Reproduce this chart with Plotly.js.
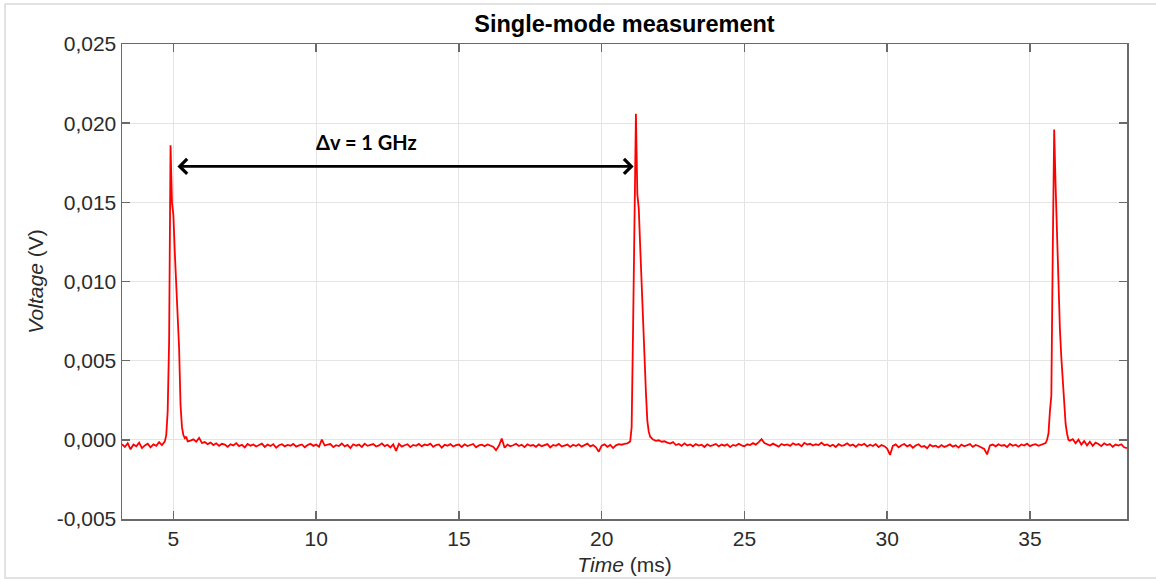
<!DOCTYPE html>
<html>
<head>
<meta charset="utf-8">
<script src="https://cdn.plot.ly/plotly-3.0.1.min.js"></script>
<style>
html,body{margin:0;padding:0;background:#fff;}
#chart{width:1156px;height:579px;}
</style>
</head>
<body>
<div id="chart"></div>
<script>
// ---- data (time in ms, voltage in V) ----
const timeA = [3.2,3.3,3.4,3.5,3.6,3.7,3.8,3.9,4.0,4.1,4.2,4.3,4.4,4.5,4.6,4.7];
const voltA = [-0.00028,-0.00045,-0.00022,-0.00060,-0.00030,-0.00041,-0.00018,-0.00052,-0.00035,-0.00024,-0.00047,-0.00029,-0.00038,-0.00015,-0.00033,-0.00010];

const timePeak1 = [4.75,4.8,4.85,4.9,4.95,5.0,5.05,5.1,5.15,5.2,5.25,5.3,5.35,5.4,5.45,5.5];
const voltPeak1 = [0.0003,0.0018,0.0062,0.0186,0.0150,0.0142,0.0118,0.0097,0.0078,0.0058,0.0022,0.0008,0.0003,0.0001,0.0002,-0.0001];

const timeB = [
 5.6,5.7,5.8,5.9,6.0,6.1,6.2,6.3,6.4,6.5,
 6.6,6.7,6.8,6.9,7.0,7.1,7.2,7.3,7.4,7.5,
 7.6,7.7,7.8,7.9,8.0,8.1,8.2,8.3,8.4,8.5,
 8.6,8.7,8.8,8.9,9.0,9.1,9.2,9.3,9.4,9.5,
 9.6,9.7,9.8,9.9,10.0,10.1,10.2,10.3,10.4,10.5,
 10.6,10.7,10.8,10.9,11.0,11.1,11.2,11.3,11.4,11.5,
 11.6,11.7,11.8,11.9,12.0,12.1,12.2,12.3,12.4,12.5,
 12.6,12.7,12.8,12.9,13.0,13.1,13.2,13.3,13.4,13.5,
 13.6,13.7,13.8,13.9,14.0,14.1,14.2,14.3,14.4,14.5,
 14.6,14.7,14.8,14.9,15.0,15.1,15.2,15.3,15.4,15.5,
 15.6,15.7,15.8,15.9,16.0,16.1,16.2,16.3,16.4,16.5,
 16.6,16.7,16.8,16.9,17.0,17.1,17.2,17.3,17.4,17.5,
 17.6,17.7,17.8,17.9,18.0,18.1,18.2,18.3,18.4,18.5,
 18.6,18.7,18.8,18.9,19.0,19.1,19.2,19.3,19.4,19.5,
 19.6,19.7,19.8,19.9,20.0,20.1,20.2,20.3,20.4,20.5,
 20.6,20.7,20.8,20.9];
const voltB = [
 -0.00005,0.00003,-0.00012,0.00012,-0.00020,-0.00014,-0.00027,-0.00018,-0.00033,-0.00022,
 -0.00038,-0.00025,-0.00030,-0.00044,-0.00028,-0.00035,-0.00021,-0.00040,-0.00031,-0.00048,
 -0.00026,-0.00037,-0.00029,-0.00042,-0.00033,-0.00024,-0.00045,-0.00030,-0.00039,-0.00027,
 -0.00050,-0.00034,-0.00028,-0.00041,-0.00032,-0.00037,-0.00026,-0.00043,-0.00035,-0.00029,
 -0.00047,-0.00033,-0.00025,-0.00038,-0.00030,-0.00044,0.00002,-0.00036,-0.00031,-0.00027,
 -0.00046,-0.00034,-0.00039,-0.00023,-0.00041,-0.00032,-0.00052,-0.00028,-0.00037,-0.00030,
 -0.00045,-0.00024,-0.00038,-0.00033,-0.00027,-0.00042,-0.00035,-0.00022,-0.00040,-0.00031,
 -0.00048,-0.00029,-0.00070,-0.00025,-0.00043,-0.00034,-0.00028,-0.00046,-0.00032,-0.00038,
 -0.00026,-0.00041,-0.00030,-0.00035,-0.00024,-0.00044,-0.00033,-0.00029,-0.00049,-0.00031,
 -0.00037,-0.00027,-0.00042,-0.00034,-0.00030,-0.00045,-0.00028,-0.00039,-0.00033,-0.00026,
 -0.00047,-0.00035,-0.00031,-0.00040,-0.00029,-0.00036,-0.00043,-0.00065,-0.00038,0.00008,
 -0.00050,-0.00030,-0.00041,-0.00034,-0.00025,-0.00039,-0.00031,-0.00046,-0.00028,-0.00037,
 -0.00033,-0.00044,-0.00029,-0.00040,-0.00035,-0.00027,-0.00048,-0.00032,-0.00038,-0.00026,
 -0.00042,-0.00034,-0.00030,-0.00045,-0.00031,-0.00039,-0.00028,-0.00043,-0.00036,-0.00024,
 -0.00041,-0.00033,-0.00047,-0.00075,-0.00037,-0.00029,-0.00044,-0.00032,-0.00052,-0.00035,
 -0.00027,-0.00031,-0.00026,-0.00022];

const timePeak2 = [21.0,21.05,21.1,21.15,21.2,21.25,21.3,21.35,21.4,21.45,21.5,21.55,21.6,21.65,21.7,21.75];
const voltPeak2 = [-0.0001,0.0008,0.0070,0.0132,0.0206,0.0155,0.0146,0.0122,0.0098,0.0072,0.0046,0.0030,0.0012,0.0005,0.0002,0.0001];

const timeC = [
 21.8,21.9,22.0,22.1,22.2,22.3,22.4,22.5,22.6,22.7,
 22.8,22.9,23.0,23.1,23.2,23.3,23.4,23.5,23.6,23.7,
 23.8,23.9,24.0,24.1,24.2,24.3,24.4,24.5,24.6,24.7,
 24.8,24.9,25.0,25.1,25.2,25.3,25.4,25.5,25.6,25.7,
 25.8,25.9,26.0,26.1,26.2,26.3,26.4,26.5,26.6,26.7,
 26.8,26.9,27.0,27.1,27.2,27.3,27.4,27.5,27.6,27.7,
 27.8,27.9,28.0,28.1,28.2,28.3,28.4,28.5,28.6,28.7,
 28.8,28.9,29.0,29.1,29.2,29.3,29.4,29.5,29.6,29.7,
 29.8,29.9,30.0,30.1,30.2,30.3,30.4,30.5,30.6,30.7,
 30.8,30.9,31.0,31.1,31.2,31.3,31.4,31.5,31.6,31.7,
 31.8,31.9,32.0,32.1,32.2,32.3,32.4,32.5,32.6,32.7,
 32.8,32.9,33.0,33.1,33.2,33.3,33.4,33.5,33.6,33.7,
 33.8,33.9,34.0,34.1,34.2,34.3,34.4,34.5,34.6,34.7,
 34.8,34.9,35.0,35.1,35.2,35.3,35.4,35.5];
const voltC = [
 0.00002,-0.00006,-0.00003,-0.00012,-0.00009,-0.00018,-0.00024,-0.00015,-0.00033,-0.00026,
 -0.00038,-0.00022,-0.00035,-0.00029,-0.00041,-0.00027,-0.00036,-0.00031,-0.00045,-0.00028,
 -0.00039,-0.00033,-0.00026,-0.00042,-0.00030,-0.00037,-0.00029,-0.00046,-0.00032,-0.00038,
 -0.00025,-0.00035,-0.00040,-0.00028,-0.00033,-0.00021,-0.00030,-0.00014,0.00004,-0.00020,
 -0.00027,-0.00036,-0.00024,-0.00031,-0.00043,-0.00026,-0.00034,-0.00029,-0.00038,-0.00022,
 -0.00032,-0.00027,-0.00041,-0.00019,-0.00030,-0.00025,-0.00036,-0.00028,-0.00033,-0.00018,
 -0.00034,-0.00029,-0.00040,-0.00031,-0.00045,-0.00027,-0.00038,-0.00033,-0.00022,-0.00037,
 -0.00030,-0.00044,-0.00028,-0.00035,-0.00025,-0.00042,-0.00031,-0.00039,-0.00027,-0.00046,
 -0.00033,-0.00040,-0.00055,-0.00095,-0.00038,-0.00029,-0.00047,-0.00034,-0.00026,-0.00041,
 -0.00032,-0.00050,-0.00036,-0.00028,-0.00044,-0.00039,-0.00053,-0.00031,-0.00042,-0.00037,
 -0.00048,-0.00033,-0.00045,-0.00038,-0.00029,-0.00043,-0.00035,-0.00049,-0.00030,-0.00041,
 -0.00036,-0.00027,-0.00044,-0.00032,-0.00039,-0.00046,-0.00058,-0.00092,-0.00035,-0.00030,
 -0.00041,-0.00028,-0.00037,-0.00033,-0.00045,-0.00026,-0.00038,-0.00031,-0.00043,-0.00029,
 -0.00036,-0.00024,-0.00040,-0.00032,-0.00027,-0.00038,-0.00030,-0.00022];

const timePeak3 = [35.55,35.6,35.65,35.7,35.75,35.8,35.85,35.9,35.95,36.0,36.05,36.1,36.15,36.2,36.25,36.3,36.35];
const voltPeak3 = [-0.0002,0.0000,0.0004,0.0018,0.0028,0.0120,0.0196,0.0160,0.0128,0.0100,0.0070,0.0052,0.0038,0.0026,0.0010,0.0004,0.0000];

const timeD = [36.4,36.5,36.6,36.7,36.8,36.9,37.0,37.1,37.2,37.3,
               37.4,37.5,37.6,37.7,37.8,37.9,38.0,38.1,38.2,38.3,38.4];
const voltD = [-0.00005,0.00004,-0.00022,0.00001,-0.00030,-0.00008,-0.00035,-0.00012,-0.00038,-0.00018,
               -0.00026,-0.00040,-0.00022,-0.00033,-0.00027,-0.00044,-0.00030,-0.00036,-0.00028,-0.00047,-0.00052];

const timeMs = [].concat(timeA, timePeak1, timeB, timePeak2, timeC, timePeak3, timeD);
const voltageV = [].concat(voltA, voltPeak1, voltB, voltPeak2, voltC, voltPeak3, voltD);

const xTickVals = [5, 10, 15, 20, 25, 30, 35];
const yTickVals = [-0.005, 0, 0.005, 0.010, 0.015, 0.020, 0.025];
const yTickText = ['-0,005', '0,000', '0,005', '0,010', '0,015', '0,020', '0,025'];

const chartTitle = 'Single-mode measurement';
const xTitle = '<i>Time</i> (ms)';
const yTitle = '<i>Voltage</i> (V)';
const spacingLabel = 'Δv = 1 GHz';

// ---- chart ----
const FONT = 'Liberation Sans, Arial, Helvetica, sans-serif';
const AXCOL = '#6a6a6a';

const trace = {
  type: 'scatter', mode: 'lines',
  x: timeMs, y: voltageV,
  line: {color: '#ff0000', width: 1.8},
  hoverinfo: 'skip'
};

const axisCommon = {
  showline: true, linecolor: AXCOL, linewidth: 1.5, mirror: 'ticks',
  ticks: 'inside', ticklen: 8, tickwidth: 1.5, tickcolor: AXCOL,
  showgrid: true, gridcolor: '#e4e4e4', gridwidth: 1,
  zeroline: false,
  tickfont: {family: FONT, size: 21, color: '#2b2b2b'}
};

const layout = {
  width: 1156, height: 579,
  margin: {l: 122, r: 29, t: 44, b: 60, pad: 0},
  paper_bgcolor: '#ffffff', plot_bgcolor: '#ffffff',
  font: {family: FONT, size: 21, color: '#2b2b2b'},
  showlegend: false,
  title: {
    text: '<b>' + chartTitle + '</b>',
    font: {family: FONT, size: 23.5, color: '#000000'},
    x: 0.5, xref: 'paper', xanchor: 'center',
    y: 1 - 24 / 579, yref: 'container', yanchor: 'middle'
  },
  xaxis: Object.assign({}, axisCommon, {
    range: [3.2, 38.4], tickmode: 'array', tickvals: xTickVals,
    title: {text: xTitle, font: {family: FONT, size: 21, color: '#2b2b2b'}, standoff: 8}
  }),
  yaxis: Object.assign({}, axisCommon, {
    range: [-0.005, 0.025], tickmode: 'array', tickvals: yTickVals, ticktext: yTickText,
    title: {text: yTitle, font: {family: FONT, size: 21, color: '#2b2b2b'}, standoff: 7}
  }),
  shapes: [{
    type: 'rect', xref: 'paper', yref: 'paper',
    x0: -0.1164, x1: 1.0328, y0: -0.1242, y1: 1.0842,
    line: {color: '#d9d9d9', width: 1.5}, fillcolor: 'rgba(0,0,0,0)', layer: 'below'
  }],
  annotations: [
    {
      x: 21.12, y: 0.01727, xref: 'x', yref: 'y',
      ax: 5.09, ay: 0.01727, axref: 'x', ayref: 'y',
      text: '', showarrow: true, arrowside: 'end+start',
      arrowhead: 4, startarrowhead: 4, arrowsize: 1.1, startarrowsize: 1.1,
      arrowwidth: 2.6, arrowcolor: '#000000', standoff: 0, startstandoff: 0
    },
    {
      x: 11.76, y: 0.01880, xref: 'x', yref: 'y',
      text: '<b>' + spacingLabel + '</b>', showarrow: false,
      font: {family: 'Lato, Open Sans, sans-serif', size: 20, color: '#000000'}
    }
  ]
};

Plotly.newPlot('chart', [trace], layout, {displayModeBar: false, staticPlot: true});
</script>
</body>
</html>
